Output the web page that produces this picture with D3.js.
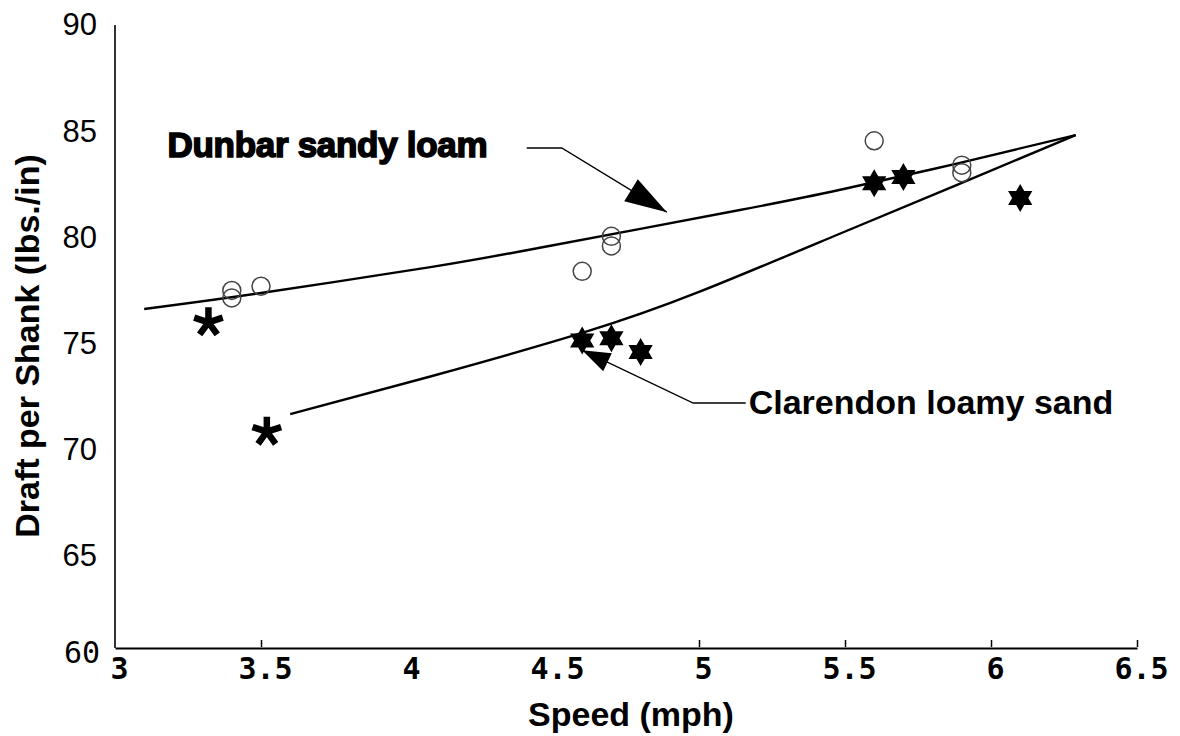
<!DOCTYPE html>
<html>
<head>
<meta charset="utf-8">
<script src="https://cdn.jsdelivr.net/npm/d3@7"></script>
<style>
  body { margin: 0; background: #fff; }
  svg { display: block; }
</style>
</head>
<body>
<div id="chart"></div>
<script>
// values
const speedTicks = [3, 3.5, 4, 4.5, 5, 5.5, 6, 6.5]
const draftTicks = [60, 65, 70, 75, 80, 85, 90]

// open circles - Dunbar sandy loam [speed, draft]
const dunbarObs = [[3.4, 77.45], [3.4, 77.1], [3.5, 77.65], [4.6, 78.35], [4.7, 80.0], [4.7, 79.55], [5.6, 84.5], [5.9, 83.35], [5.9, 83.0]]
// filled stars - Clarendon loamy sand
const clarendonObs = [[4.6, 75.1], [4.7, 75.2], [4.8, 74.55], [5.6, 82.5], [5.7, 82.8], [6.1, 81.8]]
// asterisks
const starredObs = [[3.32, 75.95], [3.52, 70.8]]

// fitted curves
const dunbarFit = [[3.1, 76.58], [3.5, 77.33], [4.08, 78.55], [4.45, 79.45], [5.14, 81.24], [5.48, 82.18], [5.89, 83.45], [6.29, 84.77]]
const clarendonFit = [[3.6, 71.63], [4.08, 73.4], [4.6, 75.45], [5.0, 77.38], [5.48, 80.11], [5.89, 82.46], [6.29, 84.77]]

// annotation leaders: label anchor, elbow, arrow tip
const dunbarNote = { text: 'Dunbar sandy loam', at: [3.18, 83.75], path: [[4.41, 84.16], [4.53, 84.16], [4.89, 81.14]] }
const clarendonNote = { text: 'Clarendon loamy sand', at: [5.17, 71.65], path: [[5.16, 72.15], [4.98, 72.15], [4.6, 74.64]] }

const width = 1180, height = 736
const axisY = 648

const x = d3.scaleLinear().domain([3, 6.5]).range([115, 1137])
const y = d3.scaleLinear().domain([60, 90]).range([661, 24])

const svg = d3.select('#chart')
  .append('svg')
  .attr('width', width)
  .attr('height', height)

// y axis
const yAxis = svg.append('g')
  .attr('transform', `translate(${x(3)},0)`)
  .call(d3.axisLeft(y).tickValues(draftTicks).tickSize(0).tickPadding(18))
yAxis.select('.domain').remove()
yAxis.selectAll('text')
  .attr('font-family', 'Liberation Sans, Arial, sans-serif')
  .attr('font-size', 31)
  .attr('fill', '#000')
  .attr('dy', '0.35em')
yAxis.selectAll('.tick').filter(d => d === 60)
  .attr('transform', `translate(0,${axisY + 4})`)
  .select('text')
  .attr('font-family', 'DejaVu Sans Mono, monospace')
  .attr('font-size', 30)
  .attr('x', -15)

svg.append('line')
  .attr('x1', x(3)).attr('x2', x(3))
  .attr('y1', y(90) + 1).attr('y2', axisY)
  .attr('stroke', '#000').attr('stroke-width', 1.6)

// x axis
const xAxis = svg.append('g')
  .attr('transform', `translate(0,${axisY})`)
  .call(d3.axisBottom(x).tickValues(speedTicks).tickFormat(d3.format('')).tickSizeInner(-10).tickSizeOuter(0).tickPadding(10))
xAxis.select('.domain').attr('stroke', '#000').attr('stroke-width', 2.2)
xAxis.selectAll('.tick line')
  .attr('stroke', '#000')
  .attr('stroke-width', 1.5)
  .attr('y2', -8)
  .attr('y1', -1)
  .attr('opacity', d => [3, 4, 4.5].includes(d) ? 0 : 1)
xAxis.selectAll('text')
  .attr('font-family', 'DejaVu Sans Mono, monospace')
  .attr('font-weight', 'bold')
  .attr('font-size', 30)
  .attr('fill', '#000')
  .attr('dx', 4)

// axis titles
svg.append('text')
  .attr('x', 631).attr('y', 726)
  .attr('text-anchor', 'middle')
  .attr('font-family', 'Liberation Sans, Arial, sans-serif')
  .attr('font-weight', 'bold')
  .attr('font-size', 34)
  .text('Speed (mph)')

svg.append('text')
  .attr('transform', 'translate(39,346) rotate(-90)')
  .attr('text-anchor', 'middle')
  .attr('font-family', 'Liberation Sans, Arial, sans-serif')
  .attr('font-weight', 'bold')
  .attr('font-size', 34)
  .text('Draft per Shank (lbs./in)')

// fitted curves
const line = d3.line()
  .x(d => x(d[0]))
  .y(d => y(d[1]))
  .curve(d3.curveNatural)

svg.selectAll('path.fit')
  .data([dunbarFit, clarendonFit])
  .enter()
  .append('path')
  .attr('class', 'fit')
  .attr('d', line)
  .attr('fill', 'none')
  .attr('stroke', '#000')
  .attr('stroke-width', 2.4)

// open circles
svg.selectAll('circle.dunbar')
  .data(dunbarObs)
  .enter()
  .append('circle')
  .attr('class', 'dunbar')
  .attr('cx', d => x(d[0]))
  .attr('cy', d => y(d[1]))
  .attr('r', 9)
  .attr('fill', 'none')
  .attr('stroke', '#444')
  .attr('stroke-width', 1.5)

// six pointed stars
const R = 14
const hexagram = d3.lineRadial()
  .angle(d => d[0])
  .radius(d => d[1])
  .curve(d3.curveLinearClosed)
const starPts = d3.range(12).map(i => [i * Math.PI / 6, i % 2 ? R / Math.sqrt(3) : R])

svg.selectAll('path.clarendon')
  .data(clarendonObs)
  .enter()
  .append('path')
  .attr('class', 'clarendon')
  .attr('transform', d => `translate(${x(d[0])},${y(d[1])})`)
  .attr('d', hexagram(starPts))
  .attr('fill', '#000')

// asterisks (five arms)
const asterisk = d3.path()
d3.range(5).forEach(i => {
  const a = -Math.PI / 2 + i * 2 * Math.PI / 5
  asterisk.moveTo(0, 0)
  asterisk.lineTo(15 * Math.cos(a), 15 * Math.sin(a))
})
svg.selectAll('path.asterisk')
  .data(starredObs)
  .enter()
  .append('path')
  .attr('class', 'asterisk')
  .attr('transform', d => `translate(${x(d[0])},${y(d[1])})`)
  .attr('d', asterisk.toString())
  .attr('fill', 'none')
  .attr('stroke', '#000')
  .attr('stroke-width', 6.5)

// annotations
function arrowHead(from, to, len, half) {
  const x0 = x(from[0]), y0 = y(from[1]), x1 = x(to[0]), y1 = y(to[1])
  const a = Math.atan2(y1 - y0, x1 - x0)
  const bx = x1 - len * Math.cos(a), by = y1 - len * Math.sin(a)
  return [[x1, y1],
    [bx + half * Math.sin(a), by - half * Math.cos(a)],
    [bx - half * Math.sin(a), by + half * Math.cos(a)]]
}

const leader = d3.line().x(d => x(d[0])).y(d => y(d[1]))

;[[dunbarNote, 42, 13], [clarendonNote, 28, 10]].forEach(([note, len, half]) => {
  svg.append('path')
    .attr('d', leader(note.path))
    .attr('fill', 'none')
    .attr('stroke', '#000')
    .attr('stroke-width', 1.3)
  svg.append('polygon')
    .attr('points', arrowHead(note.path[1], note.path[2], len, half).join(' '))
    .attr('fill', '#000')
})

svg.append('text')
  .attr('x', x(dunbarNote.at[0])).attr('y', y(dunbarNote.at[1]))
  .attr('font-family', 'Liberation Sans, Arial, sans-serif')
  .attr('font-weight', 'bold')
  .attr('font-size', 35)
  .attr('letter-spacing', -0.3)
  .attr('stroke', '#000')
  .attr('stroke-width', 1.6)
  .text(dunbarNote.text)

svg.append('text')
  .attr('x', x(clarendonNote.at[0])).attr('y', y(clarendonNote.at[1]))
  .attr('font-family', 'Liberation Sans, Arial, sans-serif')
  .attr('font-weight', 'bold')
  .attr('font-size', 34)
  .text(clarendonNote.text)
</script>
</body>
</html>
